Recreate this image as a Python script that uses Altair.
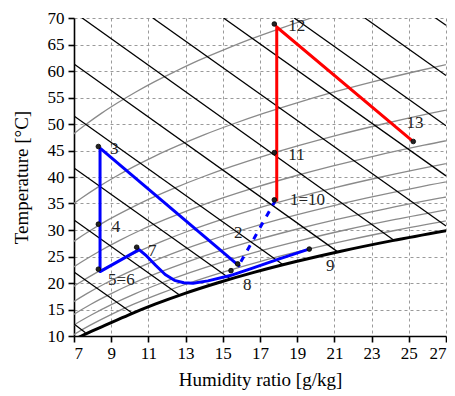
import altair as alt
import pandas as pd

# ---- relative humidity curves (humidity ratio g/kg vs temperature °C) ----
RH10_T = [40, 44, 46, 48, 50, 52, 54, 56, 58, 60, 62, 64, 66, 68, 70, 72]
RH10_W = [4.56, 5.64, 6.26, 6.93, 7.67, 8.47, 9.35, 10.30, 11.34, 12.49, 13.70, 15.05, 16.49, 18.07, 19.76, 21.59]
RH20_T = [30, 32, 34, 36, 38, 40, 42, 44, 46, 48, 50, 52, 54, 56, 58, 60, 62]
RH20_W = [5.26, 5.90, 6.61, 7.39, 8.25, 9.20, 10.24, 11.38, 12.65, 14.02, 15.54, 17.18, 18.99, 20.95, 23.11, 25.48, 28.02]
RH30_T = [24, 26, 28, 30, 32, 34, 36, 38, 40, 42, 44, 46, 48, 50, 52, 54]
RH30_W = [5.55, 6.26, 7.05, 7.92, 8.88, 9.96, 11.15, 12.46, 13.90, 15.49, 17.24, 19.16, 21.27, 23.61, 26.14, 28.93]
RH40_T = [20, 22, 24, 26, 28, 30, 32, 34, 36, 38, 40, 42, 44, 46, 48]
RH40_W = [5.80, 6.56, 7.42, 8.37, 9.43, 10.60, 11.91, 13.36, 14.96, 16.72, 18.68, 20.82, 23.20, 25.82, 28.69]
RH50_T = [16, 18, 20, 22, 24, 26, 28, 30, 32, 34, 36, 38, 40, 42, 44]
RH50_W = [5.63, 6.40, 7.27, 8.23, 9.30, 10.50, 11.83, 13.31, 14.96, 16.78, 18.81, 21.04, 23.52, 26.25, 29.27]
RH60_T = [14, 16, 18, 20, 22, 24, 26, 28, 30, 32, 34, 36, 38, 40]
RH60_W = [5.94, 6.77, 7.69, 8.73, 9.90, 11.19, 12.64, 14.25, 16.04, 18.03, 20.25, 22.70, 25.42, 28.44]
RH70_T = [12, 14, 16, 18, 20, 22, 24, 26, 28, 30, 32, 34, 36, 38]
RH70_W = [6.09, 6.95, 7.91, 9.00, 10.21, 11.58, 13.10, 14.79, 16.68, 18.80, 21.14, 23.75, 26.65, 29.86]
RH80_T = [10, 12, 14, 16, 18, 20, 22, 24, 26, 28, 30, 32, 34]
RH80_W = [6.09, 6.96, 7.95, 9.06, 10.30, 11.70, 13.27, 15.01, 16.96, 19.15, 21.58, 24.28, 27.29]
RH90_T = [9, 10, 12, 14, 16, 18, 20, 22, 24, 26, 28, 30, 32]
RH90_W = [6.41, 6.86, 7.85, 8.96, 10.21, 11.62, 13.20, 14.97, 16.94, 19.15, 21.62, 24.38, 27.45]
SAT_T = [9, 10, 11, 12, 14, 16, 18, 20, 22, 24, 26, 28, 30]
SAT_W = [6.85, 7.40, 8.02, 8.66, 9.95, 11.36, 12.93, 14.70, 16.67, 18.88, 21.35, 24.12, 27.20]

# ---- constant enthalpy lines (kJ/kg): start and end points ----
H_LEVELS = [30, 40, 50, 60, 70, 80, 90, 100, 110, 120, 130, 140]
H_W0 = [7.0, 7.0, 7.0, 7.0, 7.0, 7.0, 7.44, 11.24, 15.04, 18.84, 22.64, 26.44]
H_T0 = [12.26, 22.07, 31.89, 41.70, 51.51, 61.33, 70.0, 70.0, 70.0, 70.0, 70.0, 70.0]
H_W1 = [7.62, 10.12, 12.69, 15.41, 18.24, 21.18, 24.20, 27.0, 27.0, 27.0, 27.0, 27.0]
H_T1 = [10.60, 14.35, 17.70, 20.75, 23.44, 25.87, 28.06, 30.74, 40.21, 49.68, 59.15, 68.62]

# ---- process paths ----
BLUE_A_W = [8.40, 8.40, 10.50, 10.90, 11.40, 11.90, 12.40, 12.90, 13.40, 14.20, 15.40, 16.60, 18.00, 19.55]
BLUE_A_T = [45.45, 22.15, 26.30, 25.10, 23.30, 21.60, 20.50, 20.05, 19.95, 20.40, 21.40, 22.80, 24.50, 26.30]
BLUE_B_W = [8.40, 15.92]
BLUE_B_T = [45.45, 23.10]
BLUE_DASH_W = [15.97, 17.80]
BLUE_DASH_T = [24.00, 35.40]
RED_W = [17.90, 17.90, 25.16]
RED_T = [35.40, 68.30, 46.90]

# ---- state points and labels ----
PT_NAMES = ["3", "4", "5=6", "7", "2", "8", "9", "1=10", "11", "12", "13"]
PT_W = [8.31, 8.31, 8.31, 10.37, 15.80, 15.44, 19.65, 17.77, 17.77, 17.77, 25.24]
PT_T = [45.75, 31.10, 22.60, 26.75, 23.60, 22.33, 26.40, 35.68, 44.60, 68.87, 46.70]
LB_W = [8.94, 9.03, 8.83, 10.98, 15.60, 16.09, 20.55, 18.61, 18.52, 18.52, 24.88]
LB_T = [45.20, 30.60, 20.60, 26.10, 29.50, 19.70, 23.30, 35.70, 44.20, 68.40, 50.20]

FONT = "Liberation Serif"


def xenc():
    return alt.X("w:Q", scale=alt.Scale(domain=[7, 27], nice=False, zero=False),
                 axis=alt.Axis(values=list(range(7, 28, 2)), title="Humidity ratio [g/kg]",
                               titlePadding=9, labelPadding=3))


def yenc():
    return alt.Y("T:Q", scale=alt.Scale(domain=[10, 70], nice=False, zero=False),
                 axis=alt.Axis(values=list(range(10, 71, 5)), title="Temperature [°C]",
                               titlePadding=16, labelPadding=4))


rows = []
for name, ts, ws in [("10", RH10_T, RH10_W), ("20", RH20_T, RH20_W), ("30", RH30_T, RH30_W),
                     ("40", RH40_T, RH40_W), ("50", RH50_T, RH50_W), ("60", RH60_T, RH60_W),
                     ("70", RH70_T, RH70_W), ("80", RH80_T, RH80_W), ("90", RH90_T, RH90_W)]:
    for i, (t, w) in enumerate(zip(ts, ws)):
        rows.append({"curve": name, "o": i, "w": w, "T": t})
rh_df = pd.DataFrame(rows)

sat_df = pd.DataFrame({"w": SAT_W, "T": SAT_T, "o": range(len(SAT_T))})

hrows = []
for h, w0, t0, w1, t1 in zip(H_LEVELS, H_W0, H_T0, H_W1, H_T1):
    hrows.append({"h": h, "o": 0, "w": w0, "T": t0})
    hrows.append({"h": h, "o": 1, "w": w1, "T": t1})
h_df = pd.DataFrame(hrows)

blue_rows = []
for seg, ws, ts in [("a", BLUE_A_W, BLUE_A_T), ("b", BLUE_B_W, BLUE_B_T)]:
    for i, (w, t) in enumerate(zip(ws, ts)):
        blue_rows.append({"seg": seg, "o": i, "w": w, "T": t})
blue_df = pd.DataFrame(blue_rows)
dash_df = pd.DataFrame({"w": BLUE_DASH_W, "T": BLUE_DASH_T, "o": [0, 1]})
red_df = pd.DataFrame({"w": RED_W, "T": RED_T, "o": range(len(RED_W))})
pt_df = pd.DataFrame({"name": PT_NAMES, "w": PT_W, "T": PT_T})
lb_df = pd.DataFrame({"name": PT_NAMES, "w": LB_W, "T": LB_T})

rh_layer = alt.Chart(rh_df).mark_line(color="#8a8a8a", strokeWidth=1.3, clip=True, interpolate="monotone").encode(
    x=xenc(), y=yenc(), detail="curve:N", order="o:Q")
h_layer = alt.Chart(h_df).mark_line(color="black", strokeWidth=1.3, clip=True).encode(
    x=xenc(), y=yenc(), detail="h:N", order="o:Q")
sat_layer = alt.Chart(sat_df).mark_line(color="black", strokeWidth=3, clip=True, interpolate="monotone").encode(
    x=xenc(), y=yenc(), order="o:Q")
blue_layer = alt.Chart(blue_df).mark_line(color="#0000ff", strokeWidth=3, clip=True, strokeJoin="round").encode(
    x=xenc(), y=yenc(), detail="seg:N", order="o:Q")
dash_layer = alt.Chart(dash_df).mark_line(color="#0000ff", strokeWidth=3, strokeDash=[6, 7], clip=True).encode(
    x=xenc(), y=yenc(), order="o:Q")
red_layer = alt.Chart(red_df).mark_line(color="#ff0000", strokeWidth=3, clip=True).encode(
    x=xenc(), y=yenc(), order="o:Q")
pt_layer = alt.Chart(pt_df).mark_circle(color="#222222", size=22, opacity=1, stroke="black", strokeWidth=0.8).encode(
    x=xenc(), y=yenc())
lb_layer = alt.Chart(lb_df).mark_text(align="left", baseline="middle", font=FONT, fontSize=17, color="#222222").encode(
    x=xenc(), y=yenc(), text="name:N")

chart = alt.layer(rh_layer, h_layer, sat_layer, blue_layer, dash_layer, red_layer, pt_layer, lb_layer).properties(
    width=372, height=318,
    autosize=alt.AutoSizeParams(type="none"),
    padding={"left": 66, "top": 10, "right": 1, "bottom": 58},
).configure_view(stroke=None).configure_axis(
    grid=True, gridColor="#9a9a9a", gridDash=[3, 3], gridWidth=1,
    domainColor="black", domainWidth=1.6, tickColor="black", tickWidth=1.6, tickSize=6,
    labelFont=FONT, labelFontSize=17, labelColor="black",
    titleFont=FONT, titleFontSize=19, titleFontWeight="normal", titleColor="black",
)

chart.save("out.html", embed_options={"renderer": "svg", "actions": False})
